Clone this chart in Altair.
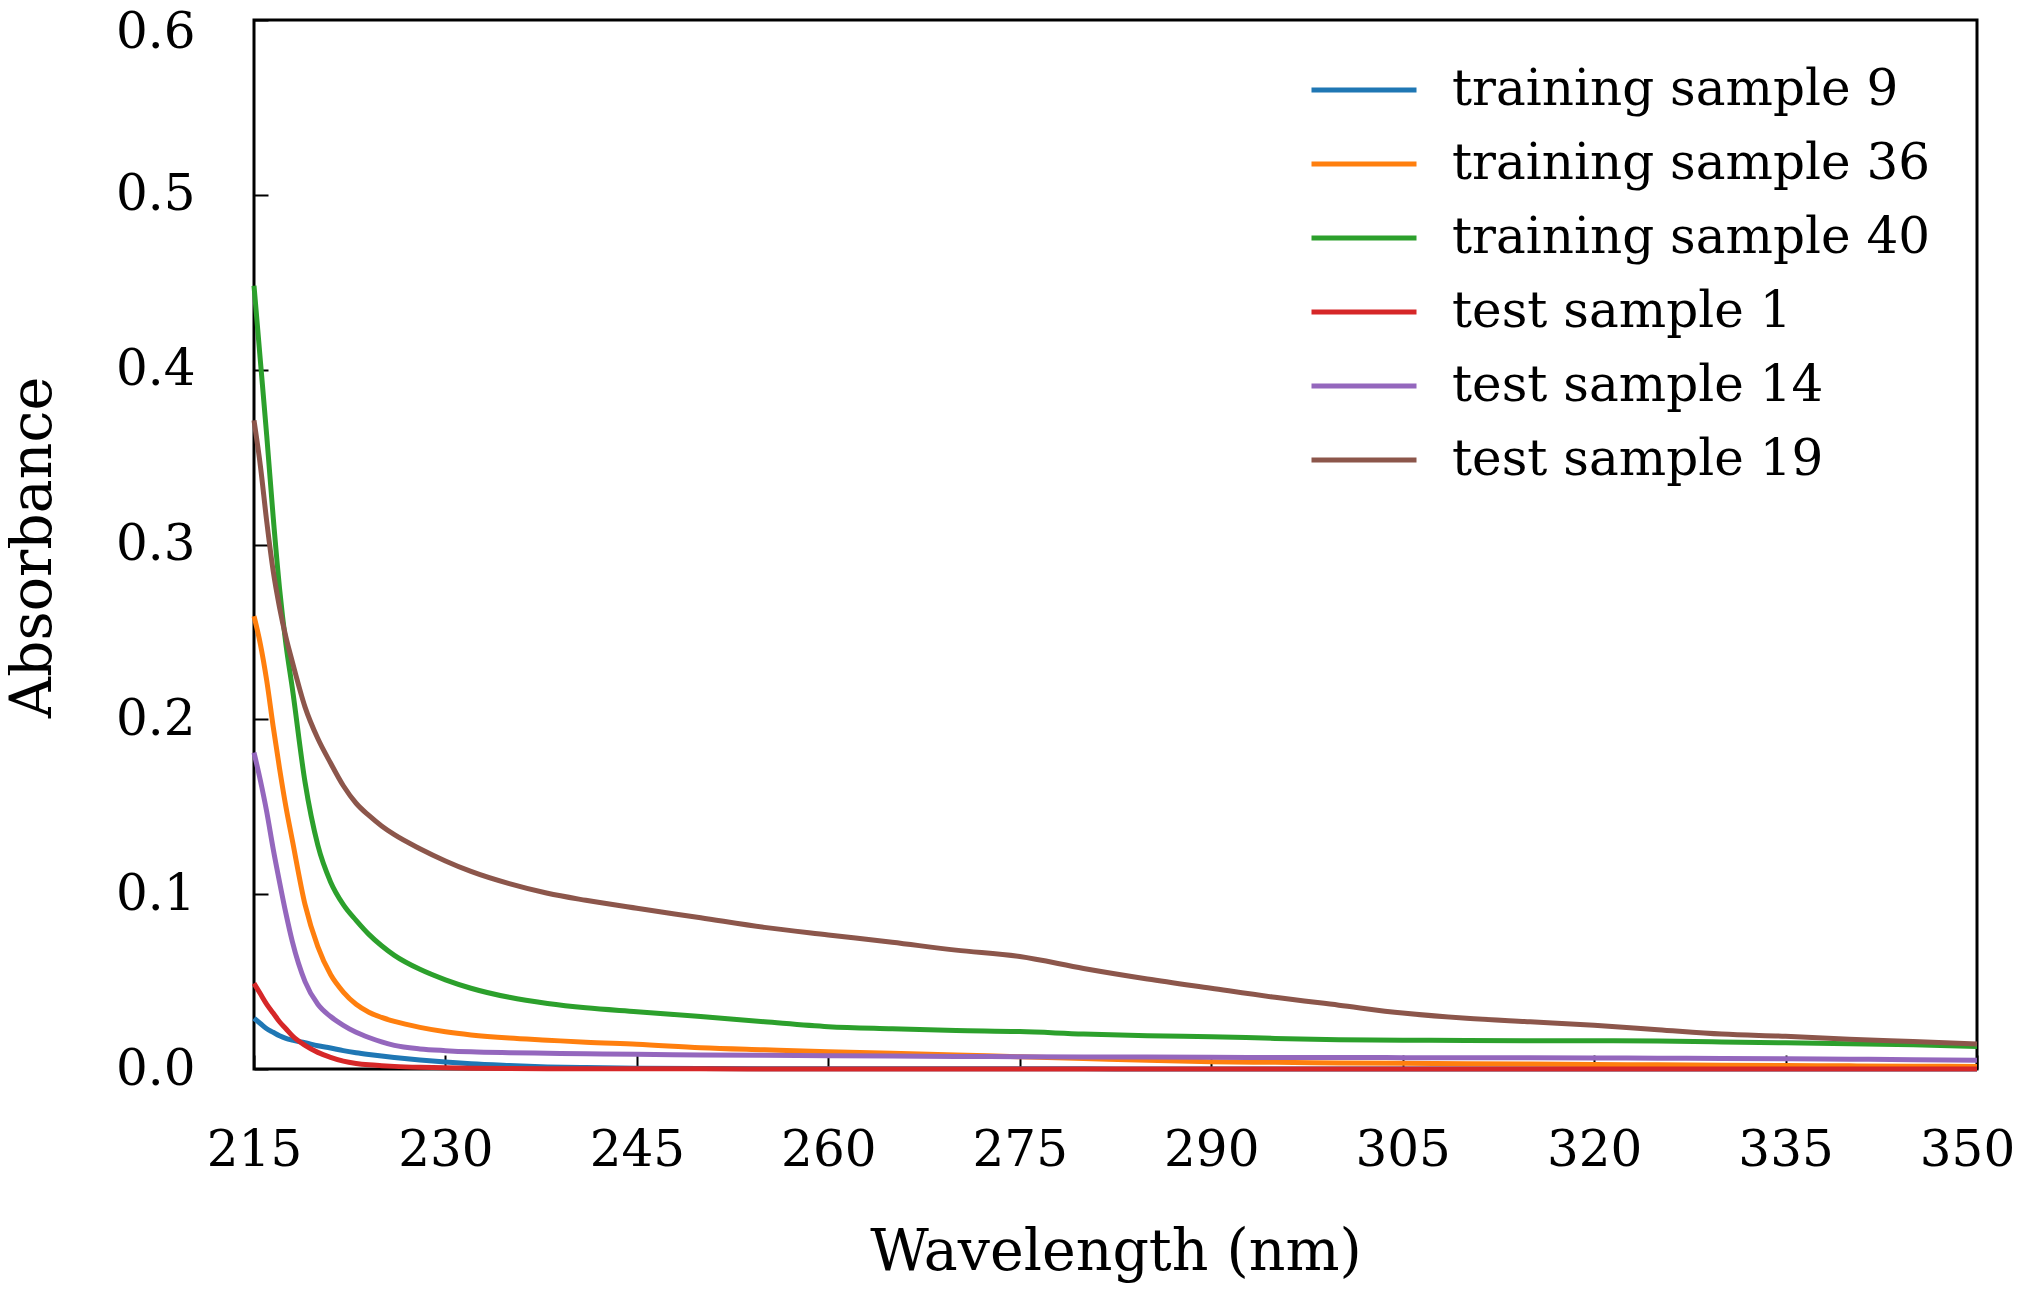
import altair as alt
import pandas as pd

# UV absorbance spectra
wavelength = [215, 215.5, 216, 216.5, 217, 217.5, 218, 219, 220, 221, 222,
              223, 224, 225, 226, 228, 230, 232, 235, 238, 241, 245,
              250, 255, 260, 265, 270, 275, 280, 285, 290, 295, 300,
              305, 310, 315, 320, 325, 330, 335, 340, 345, 350]

training_9 = [0.029, 0.026, 0.023, 0.021, 0.019, 0.0175, 0.0165, 0.015, 0.0133,
              0.012, 0.0105, 0.0093, 0.0083, 0.0074, 0.0066, 0.0052, 0.004,
              0.003, 0.002, 0.0012, 0.0008, 0.0005,
              0.0003, 0.0002, 0.0002, 0.0001, 0.0001, 0.0001, 0.0001, 0, 0,
              0, 0, 0, 0, 0, 0, 0, 0, 0, 0, 0, 0]
training_36 = [0.259, 0.243, 0.222, 0.196, 0.172, 0.150, 0.131, 0.094, 0.070,
               0.054, 0.044, 0.037, 0.0325, 0.0295, 0.0272, 0.0238, 0.0213,
               0.0195, 0.0177, 0.0165, 0.0153, 0.0142,
               0.0122, 0.011, 0.0099, 0.009, 0.008, 0.007, 0.006, 0.005,
               0.0042, 0.0038, 0.0035, 0.0033, 0.003, 0.0028, 0.0026, 0.0024,
               0.0022, 0.002, 0.0018, 0.0016, 0.0015]
training_40 = [0.448, 0.405, 0.362, 0.316, 0.275, 0.243, 0.218, 0.164, 0.128,
               0.107, 0.094, 0.085, 0.077, 0.0705, 0.065, 0.057, 0.051, 0.0462,
               0.041, 0.0375, 0.035, 0.0328,
               0.030, 0.027, 0.0242, 0.023, 0.022, 0.0214, 0.020, 0.019,
               0.0185, 0.0175, 0.0168, 0.0165, 0.0163, 0.0162, 0.0162, 0.016,
               0.0155, 0.015, 0.0145, 0.0138, 0.0128]
test_1 = [0.049, 0.043, 0.037, 0.032, 0.027, 0.023, 0.019, 0.0135, 0.0095,
          0.0067, 0.0045, 0.0032, 0.0024, 0.0019, 0.0015, 0.001, 0.0007,
          0.0005, 0.0003, 0.0002, 0.0002, 0.0001,
          0.0001, 0, 0, 0, 0, 0, 0, 0, 0, 0, 0, 0, 0, 0, 0, 0, 0, 0, 0, 0, 0]
test_14 = [0.181, 0.165, 0.147, 0.126, 0.107, 0.089, 0.073, 0.050, 0.037,
           0.030, 0.025, 0.021, 0.018, 0.0155, 0.0135, 0.0115, 0.0105, 0.0098,
           0.0093, 0.009, 0.0087, 0.0084,
           0.008, 0.0078, 0.0076, 0.0074, 0.0072, 0.007, 0.0069, 0.0068,
           0.0067, 0.0066, 0.0066, 0.0065, 0.0065, 0.0064, 0.0063, 0.0062,
           0.006, 0.0058, 0.0056, 0.0053, 0.005]
test_19 = [0.371, 0.345, 0.313, 0.285, 0.264, 0.247, 0.233, 0.207, 0.189,
           0.175, 0.162, 0.152, 0.145, 0.139, 0.134, 0.126, 0.119, 0.113,
           0.106, 0.1005, 0.0965, 0.0919,
           0.0865, 0.081, 0.0767, 0.0725, 0.068, 0.0643, 0.0575, 0.0515,
           0.0462, 0.041, 0.0365, 0.032, 0.029, 0.027, 0.025, 0.0225, 0.020,
           0.0187, 0.017, 0.0157, 0.0143]

sample_names = ["training sample 9", "training sample 36", "training sample 40",
                "test sample 1", "test sample 14", "test sample 19"]
sample_values = [training_9, training_36, training_40, test_1, test_14, test_19]
sample_colors = ["#1f77b4", "#ff7f0e", "#2ca02c", "#d62728", "#9467bd", "#8c564b"]

x_ticks = list(range(215, 351, 15))
y_ticks = [0.0, 0.1, 0.2, 0.3, 0.4, 0.5, 0.6]

rows = []
for name, values in zip(sample_names, sample_values):
    for wl, absorb in zip(wavelength, values):
        rows.append({"sample": name, "wavelength": wl, "absorbance": absorb})
data = pd.DataFrame(rows)

FONT = "DejaVu Serif"

# nudge the two corner labels that would otherwise run off the page edge
x_label_offset = {"condition": {"test": "datum.value >= 350", "value": -10}, "value": 0}
y_label_offset = {"condition": {"test": "datum.value > 0.55", "value": 12}, "value": 0}

chart = alt.Chart(data).mark_line(strokeWidth=5, interpolate="monotone").encode(
    x=alt.X("wavelength:Q",
            title="Wavelength (nm)",
            scale=alt.Scale(domain=[215, 350], nice=False, zero=False),
            axis=alt.Axis(values=x_ticks, format="d", grid=False, domain=False,
                          offset=-14, tickSize=14, tickWidth=2, tickColor="black",
                          labelFont=FONT, labelFontSize=50, labelColor="black",
                          labelPadding=56, labelFlush=False, labelOverlap=False,
                          labelOffset=x_label_offset,
                          titleFont=FONT, titleFontSize=57, titleFontWeight="normal",
                          titleColor="black", titleBaseline="alphabetic", titleY=214)),
    y=alt.Y("absorbance:Q",
            title="Absorbance",
            scale=alt.Scale(domain=[0, 0.6], nice=False, zero=True),
            axis=alt.Axis(values=y_ticks, format=".1f", grid=False, domain=False,
                          offset=-14, tickSize=14, tickWidth=2, tickColor="black",
                          labelFont=FONT, labelFontSize=50, labelColor="black",
                          labelPadding=59, labelFlush=False, labelOverlap=False,
                          labelOffset=y_label_offset,
                          titleFont=FONT, titleFontSize=57, titleFontWeight="normal",
                          titleColor="black", titleBaseline="alphabetic",
                          titleX=-218, titleY=527)),
    color=alt.Color("sample:N",
                    sort=sample_names,
                    scale=alt.Scale(domain=sample_names, range=sample_colors),
                    legend=alt.Legend(title=None, orient="none", legendX=1055, legendY=45,
                                      symbolType="stroke", symbolSize=11025,
                                      symbolStrokeWidth=5, clipHeight=50,
                                      rowPadding=24, labelOffset=33, padding=0,
                                      labelFont=FONT, labelFontSize=50,
                                      labelColor="black", labelLimit=800)),
).properties(
    width=1723,
    height=1049,
    autosize=alt.AutoSizeParams(type="none"),
    padding={"left": 246, "top": 12, "right": 37, "bottom": 215},
).configure_view(
    stroke="black",
    strokeWidth=3,
)

chart.save("out.html", embed_options={"renderer": "svg", "actions": False})
